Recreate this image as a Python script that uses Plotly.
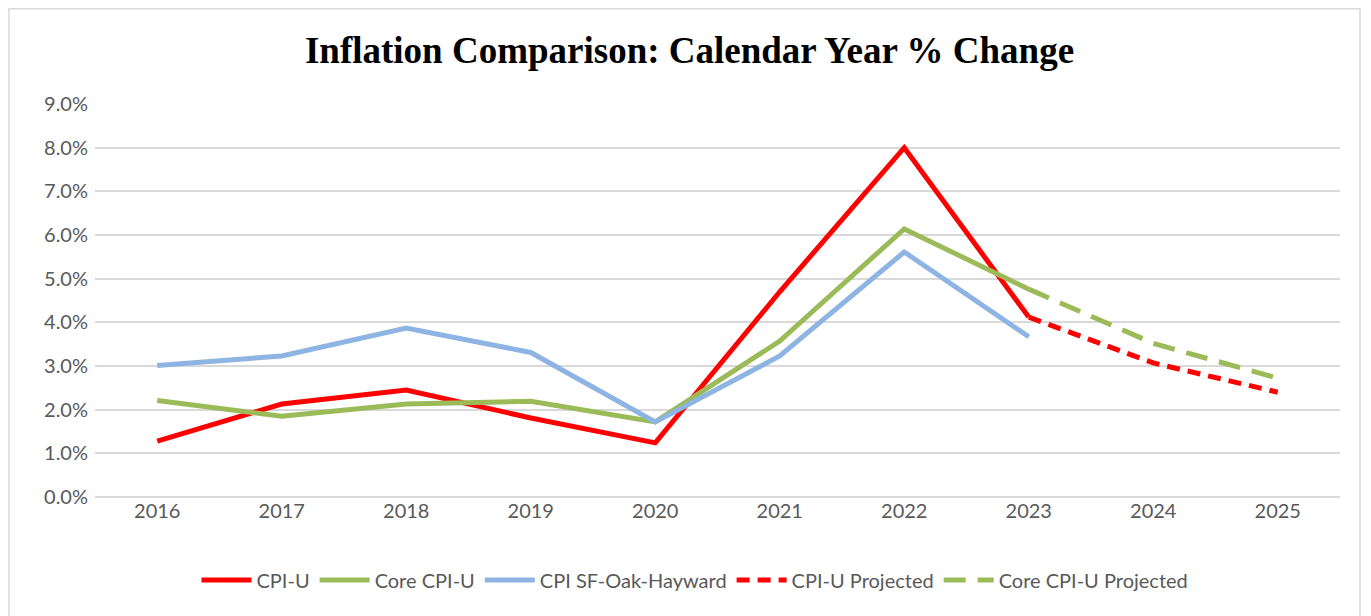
import plotly.graph_objects as go

years = ["2016", "2017", "2018", "2019", "2020", "2021", "2022", "2023", "2024", "2025"]
cpi_u = [0.0128, 0.0213, 0.0245, 0.0181, 0.0124, 0.0470, 0.0800, 0.0412]
core_cpi_u = [0.0221, 0.0185, 0.0213, 0.0219, 0.0172, 0.0357, 0.0614, 0.0476]
cpi_sf = [0.0301, 0.0323, 0.0387, 0.0331, 0.0172, 0.0323, 0.0561, 0.0367]
proj_years = ["2023", "2024", "2025"]
cpi_u_proj = [0.0412, 0.0307, 0.0240]
core_proj = [0.0476, 0.0352, 0.0272]

RED = "#FF0000"
GREEN = "#9BBB59"
BLUE = "#8DB4E2"
TXT = "#595959"
FONT = "Lato"

# page offset of 8px (body margin) is accounted for in sizes below
W, H = 1363, 608
L, R, T, B = 87, 31, 96, 119
PH = H - T - B
PW = W - L - R

fig = go.Figure()
fig.add_trace(go.Scatter(x=years[:8], y=cpi_u, mode="lines", name="CPI-U",
                         line=dict(color=RED, width=5)))
fig.add_trace(go.Scatter(x=years[:8], y=core_cpi_u, mode="lines", name="Core CPI-U",
                         line=dict(color=GREEN, width=5)))
fig.add_trace(go.Scatter(x=years[:8], y=cpi_sf, mode="lines", name="CPI SF-Oak-Hayward",
                         line=dict(color=BLUE, width=5)))
fig.add_trace(go.Scatter(x=proj_years, y=cpi_u_proj, mode="lines", name="CPI-U Projected",
                         line=dict(color=RED, width=5, dash="13px,8px")))
fig.add_trace(go.Scatter(x=proj_years, y=core_proj, mode="lines", name="Core CPI-U Projected",
                         line=dict(color=GREEN, width=5, dash="22px,12px")))

fig.update_layout(
    width=W, height=H,
    paper_bgcolor="white", plot_bgcolor="white",
    margin=dict(l=L, r=R, t=T, b=B),
    title=dict(text="<b>Inflation Comparison: Calendar Year % Change</b>",
               font=dict(family="Liberation Serif, Times New Roman, serif", size=37, color="black"),
               x=0.5, xanchor="center", xref="container", y=1 - 42 / H, yanchor="middle"),
    xaxis=dict(type="category", categoryorder="array", categoryarray=years,
               range=[-0.5, 9.5], showgrid=False, showline=False, zeroline=False,
               ticks="", tickfont=dict(family=FONT, size=20, color=TXT)),
    yaxis=dict(range=[0, 0.09], dtick=0.01, tickformat=".1%", showgrid=True,
               gridcolor="#D9D9D9", gridwidth=1.5, zeroline=True, zerolinecolor="#D9D9D9",
               zerolinewidth=1.5, showline=False, ticks="",
               tickfont=dict(family=FONT, size=20, color=TXT), ticklabelstandoff=6),
    legend=dict(orientation="h", x=(695 - 95) / PW, xanchor="center", y=-(580 - 497) / PH,
                yanchor="middle", font=dict(family=FONT, size=20, color=TXT),
                itemwidth=50, tracegroupgap=0),
    showlegend=True,
)

fig.add_shape(type="rect", xref="paper", yref="paper",
              x0=(1 - L) / PW, x1=(1360 - 8 - L) / PW,
              y0=(H - T + 30 - PH) / PH * 0 - (H - T - PH + 30) / PH, y1=(PH + T - 0.75) / PH,
              line=dict(color="#D9D9D9", width=1.5), fillcolor="rgba(0,0,0,0)", layer="below")

fig.write_html("out.html")
